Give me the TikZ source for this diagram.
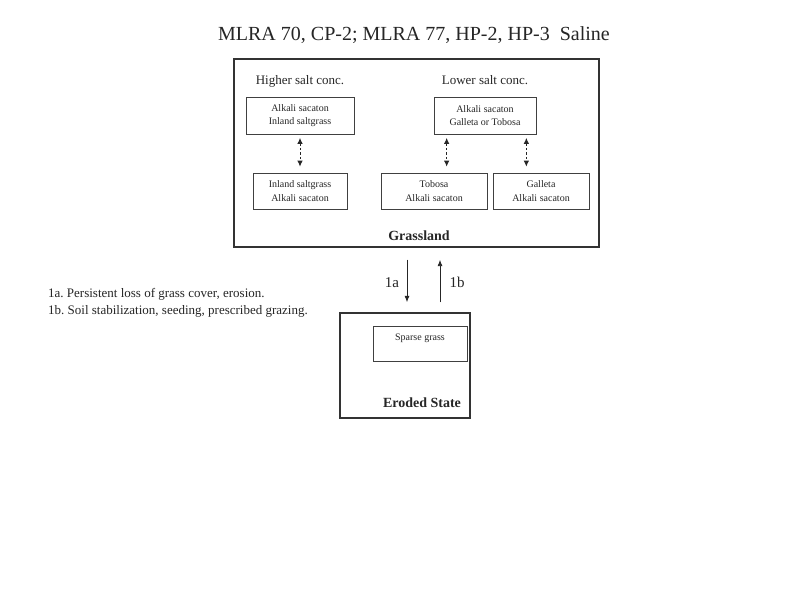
\documentclass[tikz,border=0pt]{standalone}
\usepackage{fontspec}
\setmainfont{Liberation Serif}
\usetikzlibrary{arrows.meta}
\frenchspacing
\begin{document}
\begin{tikzpicture}[x=1pt,y=-1pt,
  every node/.style={text=black!85, inner sep=0pt},
  bigbox/.style={draw=black!80, line width=1.3pt, rectangle},
  smallbox/.style={draw=black!75, line width=0.7pt, rectangle, align=center, font=\fontsize{10}{13.5}\selectfont},
  hdr/.style={font=\fontsize{13}{15}\selectfont, anchor=base},
  statelbl/.style={font=\fontsize{14}{17}\selectfont\bfseries, anchor=base},
  dasharrow/.style={draw=black!85, line width=1pt, dash pattern=on 2.5pt off 2pt, {Latex[length=6pt,width=5.5pt]}-{Latex[length=6pt,width=5.5pt]}},
  solidarrow/.style={draw=black!85, line width=0.9pt, -{Latex[length=6.5pt,width=5pt]}}
]
\useasboundingbox (0,0) rectangle (800,600);
\fill[white] (0,0) rectangle (800,600);

\node[font=\fontsize{20}{24}\selectfont, anchor=base] (title) at (414,40) {MLRA 70, CP-2; MLRA 77, HP-2, HP-3\ \ Saline};

% Grassland state
\node[bigbox, minimum width=365, minimum height=188] (G) at (416.5,153) {};
\node[hdr] (hi) at (300,84) {Higher salt conc.};
\node[hdr] (lo) at (485,84) {Lower salt conc.};
\node[smallbox, minimum width=108, minimum height=37] (A) at (300,115.5) {Alkali sacaton\\Inland saltgrass};
\node[smallbox, minimum width=102, minimum height=37] (B) at (485,115.5) {Alkali sacaton\\Galleta or Tobosa};
\node[smallbox, minimum width=94, minimum height=36] (C) at (300,191) {Inland saltgrass\\Alkali sacaton};
\node[smallbox, minimum width=106, minimum height=36] (D) at (434,191) {Tobosa\\Alkali sacaton};
\node[smallbox, minimum width=96, minimum height=36] (E) at (541,191) {Galleta\\Alkali sacaton};
\node[statelbl] (glbl) at (419,240) {Grassland};

\draw[dasharrow, shorten <=3.5pt, shorten >=6pt] (A.south) -- (C.north);
\draw[dasharrow, shorten <=3.5pt, shorten >=6pt] ([xshift=13pt]B.south west) -- ([xshift=13pt]B.south west |- D.north);
\draw[dasharrow, shorten <=3.5pt, shorten >=6pt] ([xshift=-10pt]B.south east) -- ([xshift=-10pt]B.south east |- E.north);

% Eroded state
\node[bigbox, minimum width=130, minimum height=105] (R) at (405,365.5) {};
\node[smallbox, minimum width=94, minimum height=35,
  label={[font=\fontsize{10}{12}\selectfont, text=black!85, anchor=north, yshift=-8pt]north:Sparse grass}] (S) at (420,343.5) {};
\node[statelbl] (rlbl) at (422,407) {Eroded State};

% transitions
\draw[solidarrow, shorten <=12pt, shorten >=10pt] ([xshift=-9.5pt]G.south) -- ([xshift=-9.5pt]G.south |- R.north);
\draw[solidarrow, shorten <=10pt, shorten >=12pt] ([xshift=23.5pt]G.south |- R.north) -- ([xshift=23.5pt]G.south);
\node[font=\fontsize{15}{18}\selectfont, anchor=base] (l1a) at (392,287) {1a};
\node[font=\fontsize{15}{18}\selectfont, anchor=base] (l1b) at (457,287) {1b};

\node[anchor=base west, align=left, font=\fontsize{13}{17}\selectfont] (legend) at (48,314)
  {1a. Persistent loss of grass cover, erosion.\\1b. Soil stabilization, seeding, prescribed grazing.};
\end{tikzpicture}
\end{document}
